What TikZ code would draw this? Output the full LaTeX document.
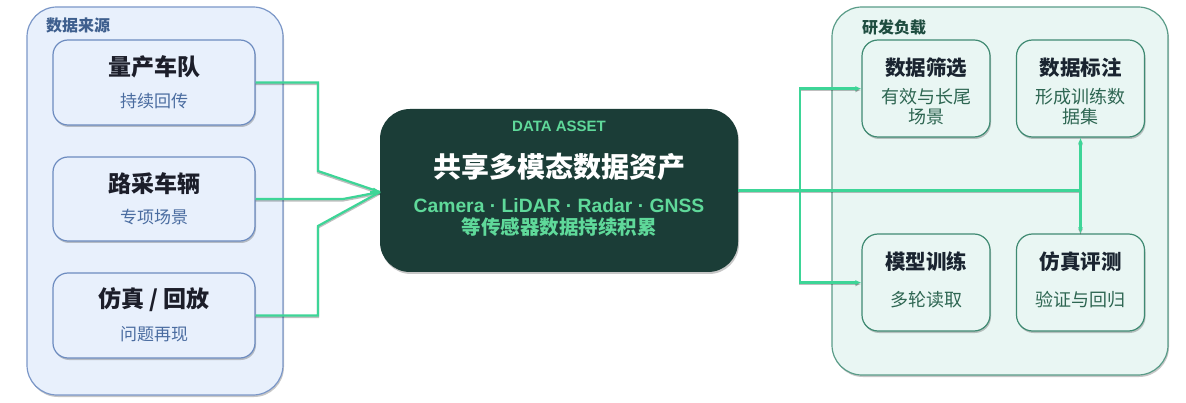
\documentclass[tikz,border=0pt]{standalone}
\usepackage{fontspec}
\setmainfont{Noto Sans CJK SC}
\newfontfamily\latf{Liberation Sans}
\usetikzlibrary{arrows.meta,shadows}
\definecolor{lfill}{HTML}{E8F0FC}
\definecolor{lborder}{HTML}{7B97C8}
\definecolor{llabel}{HTML}{3E5F8E}
\definecolor{sborder}{HTML}{6D8CC0}
\definecolor{stitle}{HTML}{1C1E2A}
\definecolor{ssub}{HTML}{4A6CA0}
\definecolor{cfill}{HTML}{1B3D37}
\definecolor{cgreen}{HTML}{5FD99A}
\definecolor{rfill}{HTML}{E9F6F3}
\definecolor{rborder}{HTML}{5A9C88}
\definecolor{rlabel}{HTML}{1F4D40}
\definecolor{bborder}{HTML}{3F8A72}
\definecolor{btitle}{HTML}{1A2430}
\definecolor{bsub}{HTML}{2E6652}
\definecolor{conncol}{HTML}{3DD597}
\tikzset{
  shad/.style={drop shadow={shadow xshift=1pt,shadow yshift=-2pt,opacity=0.22,fill=black}},
  lcont/.style={draw=lborder,line width=1.2pt,fill=lfill,rounded corners=30pt,inner sep=0pt,shad},
  rcont/.style={draw=rborder,line width=1.2pt,fill=rfill,rounded corners=30pt,inner sep=0pt,shad},
  sbox/.style={draw=sborder,line width=1.2pt,fill=lfill,rounded corners=15pt,inner sep=0pt,minimum width=202pt,shad},
  wbox/.style={draw=bborder,line width=1.2pt,fill=rfill,rounded corners=16pt,inner sep=0pt,minimum width=128pt,minimum height=97pt,shad},
  cbox/.style={fill=cfill,rounded corners=30pt,inner sep=0pt,minimum width=358pt,minimum height=163pt,shad},
  stit/.style={text=stitle,font=\fontsize{23}{26}\selectfont\bfseries,inner sep=0pt},
  ssubt/.style={text=ssub,font=\fontsize{17}{20}\selectfont,inner sep=0pt},
  btit/.style={text=btitle,font=\fontsize{20.5}{24}\selectfont\bfseries,inner sep=0pt},
  bsubt/.style={text=bsub,font=\fontsize{18}{20}\selectfont,inner sep=0pt,align=center},
  conn/.style={draw=conncol,line width=2.2pt,
     preaction={draw=black,opacity=0.25,line width=2.2pt,transform canvas={yshift=-1.5pt}}},
}
\begin{document}
\begin{tikzpicture}[x=1pt,y=-1pt]
\useasboundingbox (0,0) rectangle (1186,403);
% containers
\node[lcont,minimum width=256pt,minimum height=388pt] (lc) at (155,201) {};
\node[rcont,minimum width=336pt,minimum height=368pt] (rc) at (1000,191) {};
\node[anchor=west,text=llabel,font=\fontsize{16}{18}\selectfont\bfseries,inner sep=0pt] (lcl) at (46,25) {数据来源};
\node[anchor=west,text=rlabel,font=\fontsize{16}{18}\selectfont\bfseries,inner sep=0pt] (rcl) at (862,27) {研发负载};
% source boxes
\node[sbox,minimum height=85pt] (s1) at (154,82.5) {};
\node[sbox,minimum height=84pt] (s2) at (154,199) {};
\node[sbox,minimum height=85pt] (s3) at (154,315.5) {};
\node[stit] (s1t) at (154,67) {量产车队};
\node[ssubt] (s1s) at (154,101) {持续回传};
\node[stit] (s2t) at (154,184) {路采车辆};
\node[ssubt] (s2s) at (154,217) {专项场景};
\node[stit] (s3t) at (154,300) {仿真 / 回放};
\node[ssubt] (s3s) at (154,334) {问题再现};
% center
\node[cbox] (c) at (559,190.5) {};
\node[text=cgreen,font=\latf\fontsize{15}{17}\selectfont\bfseries,inner sep=0pt] (ct1) at (559,126) {DATA ASSET};
\node[text=white,font=\fontsize{28}{31}\selectfont\bfseries,inner sep=0pt] (ct2) at (559,167) {共享多模态数据资产};
\node[text=cgreen,font=\latf\fontsize{19.3}{22}\selectfont\bfseries,inner sep=0pt] (ct3) at (559,206) {Camera · LiDAR · Radar · GNSS};
\node[text=cgreen,font=\fontsize{19.5}{22}\selectfont\bfseries,inner sep=0pt] (ct4) at (559,227) {等传感器数据持续积累};
% workload boxes
\node[wbox] (tl) at (926,88.5) {};
\node[wbox] (tr) at (1080.5,88.5) {};
\node[wbox] (bl) at (926,282.5) {};
\node[wbox] (br) at (1080.5,282.5) {};
\node[btit] (tlt) at (926,68) {数据筛选};
\node[bsubt] (tls) at (926,107) {有效与长尾\\场景};
\node[btit] (trt) at (1080.5,68) {数据标注};
\node[bsubt] (trs) at (1080.5,107) {形成训练数\\据集};
\node[btit] (blt) at (926,262) {模型训练};
\node[bsubt] (bls) at (926,300) {多轮读取};
\node[btit] (brt) at (1080.5,262) {仿真评测};
\node[bsubt] (brs) at (1080.5,300) {验证与回归};
% left connectors
\coordinate (k1) at (318,171);
\coordinate (k2) at (343,199);
\coordinate (k3) at (318,226);
\coordinate (tip) at (380,192);
\draw[conn] (s1.east) -| (k1) -- (tip);
\draw[conn] (s2.east) -- (k2) -- (tip);
\draw[conn] (s3.east) -| (k3) -- (tip);
\draw[conncol,line width=2pt,-{Straight Barb[length=5pt,width=7pt]}] (370,192) -- (tip);
% right connectors
\coordinate (j) at (800,190.5);
\coordinate (jr) at (1080.5,190.5);
\draw[conn] (c.east) -- (jr);
\draw[conn,-{Latex[length=6pt,width=5pt]}] (j) |- (tl.west);
\draw[conn,-{Latex[length=6pt,width=5pt]}] (j) |- (bl.west);
\draw[conn,-{Latex[length=6pt,width=5pt]}] (jr) -- (tr.south);
\draw[conn,-{Latex[length=6pt,width=5pt]}] (jr) -- (br.north);
\end{tikzpicture}
\end{document}
